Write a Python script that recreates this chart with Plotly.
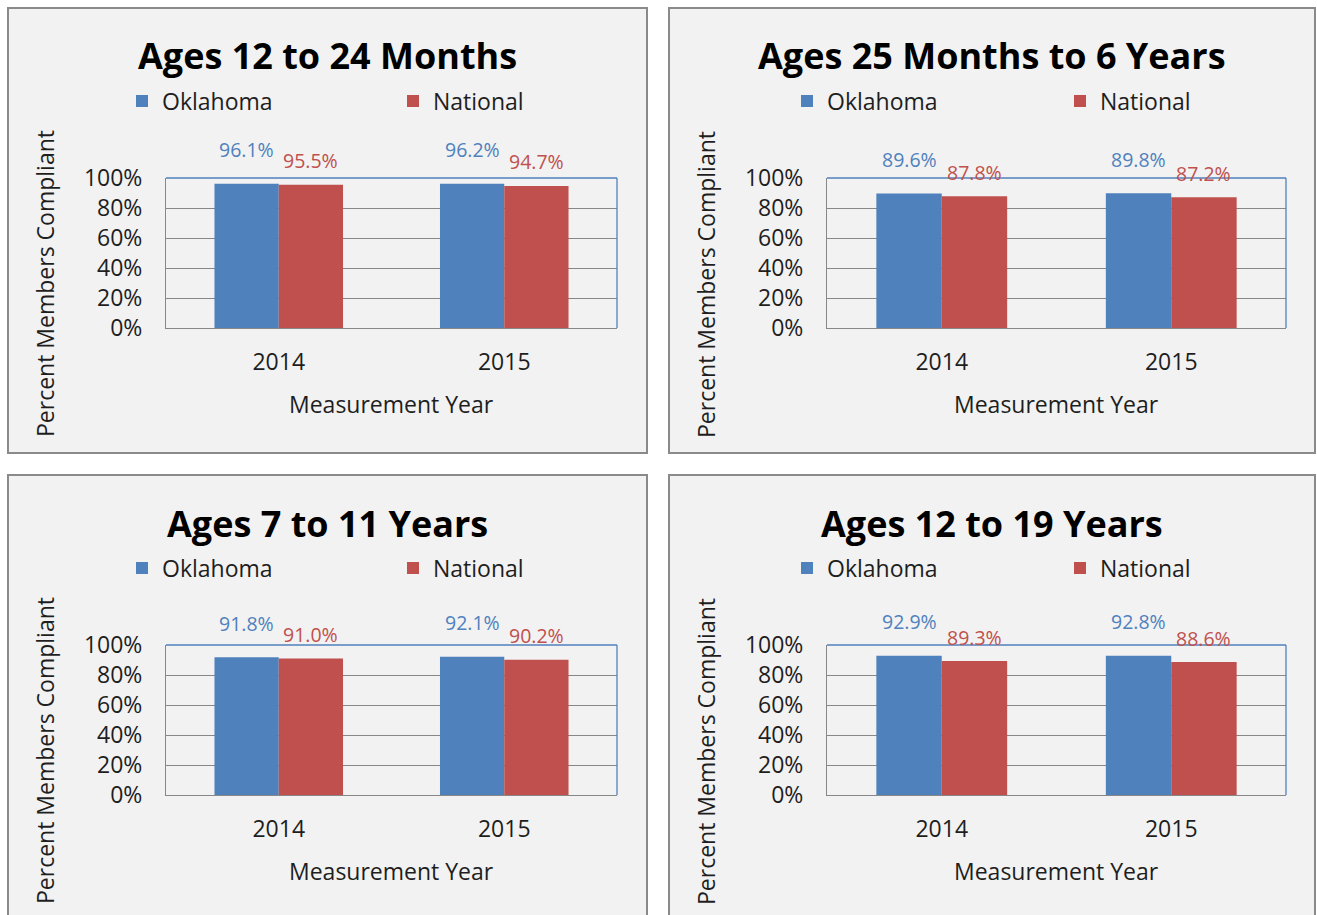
import plotly.graph_objects as go

# ---- data -------------------------------------------------------------
panel_titles = [
    "Ages 12 to 24 Months",
    "Ages 25 Months to 6 Years",
    "Ages 7 to 11 Years",
    "Ages 12 to 19 Years",
]
years = ["2014", "2015"]
series_names = ["Oklahoma", "National"]
oklahoma = [
    [0.961, 0.962],
    [0.896, 0.898],
    [0.918, 0.921],
    [0.929, 0.928],
]
national = [
    [0.955, 0.947],
    [0.878, 0.872],
    [0.910, 0.902],
    [0.893, 0.886],
]
y_ticks = [0, 0.2, 0.4, 0.6, 0.8, 1.0]
y_title = "Percent Members Compliant"
x_title = "Measurement Year"

# ---- styling / geometry ----------------------------------------------
W, H = 1317, 915
BLUE = "#4f81bd"
RED = "#c0504d"
GRID = "#878787"
TEXT = "#1e1e1e"
PANEL_BG = "#f2f2f2"
FONT = "Open Sans"
BODY = 23
BARGAP = 0.43

# panel frames and plot areas in pixels: (left, top, right, bottom)
frames = [(8, 8, 647, 453), (669, 8, 1315, 453),
          (8, 475, 647, 930), (669, 475, 1315, 930)]
plots = [(166, 178, 617, 328), (827, 178, 1286, 328),
         (166, 645, 617, 795), (827, 645, 1286, 795)]
# left edge of each legend box, and spacing between its two entries
legend_left = [122, 787, 122, 787]
legend_entry = [226, 228, 226, 228]


def fx(px):
    return px / W


def fy(py):
    return 1 - py / H


fig = go.Figure()
shapes, annotations = [], []
layout = {}

for k in range(4):
    sfx = "" if k == 0 else str(k + 1)
    xa, ya = "x" + sfx, "y" + sfx
    leg = "legend" + sfx
    fl, ft, fr, fb = frames[k]
    pl, pt, pr, pb = plots[k]

    # grey panel card
    shapes.append(dict(type="rect", xref="paper", yref="paper",
                       x0=fx(fl), x1=fx(fr), y0=fy(fb), y1=fy(ft),
                       fillcolor=PANEL_BG, line=dict(color="#8a8a8a", width=2),
                       layer="below"))

    for name, vals, color in ((series_names[0], oklahoma[k], BLUE),
                              (series_names[1], national[k], RED)):
        fig.add_trace(go.Bar(x=years, y=vals, name=name, marker_color=color,
                             marker_line_width=0, xaxis=xa, yaxis=ya,
                             legend=leg, showlegend=True, hoverinfo="skip"))

    layout["xaxis" + sfx] = dict(
        domain=[fx(pl), fx(pr)], anchor=ya, type="category",
        showline=True, linecolor=GRID, linewidth=1, ticks="",
        showgrid=False, ticklabelstandoff=13, automargin=False,
        tickfont=dict(family=FONT, size=BODY, color=TEXT), fixedrange=True)
    layout["yaxis" + sfx] = dict(
        domain=[fy(pb), fy(pt)], anchor=xa, range=[0, 1],
        tickvals=y_ticks, tickformat=".0%", showline=True, linecolor=GRID,
        linewidth=1, ticks="", showgrid=True, gridcolor=GRID, gridwidth=1,
        zeroline=False, ticklabelstandoff=18, automargin=False,
        tickfont=dict(family=FONT, size=BODY, color=TEXT), fixedrange=True)

    # blue top and right edges of the plot area
    for x0, y0, x1, y1 in ((0, 1, 1, 1), (1, 0, 1, 1)):
        shapes.append(dict(type="line", xref=xa + " domain", yref=ya + " domain",
                           x0=x0, y0=y0, x1=x1, y1=y1,
                           line=dict(color=BLUE, width=1.3), layer="above"))

    layout[leg] = dict(
        orientation="h", x=fx(legend_left[k]), xanchor="left",
        y=fy(ft + 93), yanchor="middle", entrywidth=legend_entry[k],
        bgcolor="rgba(0,0,0,0)", font=dict(family=FONT, size=BODY, color=TEXT),
        itemclick=False, itemdoubleclick=False)

    # title, axis titles
    annotations.append(dict(text="<b>%s</b>" % panel_titles[k], xref="paper",
                            yref="paper", x=fx((fl + fr) / 2), y=fy(ft + 48),
                            xanchor="center", yanchor="middle", showarrow=False,
                            font=dict(family=FONT, size=36, color="#000000")))
    annotations.append(dict(text=x_title, xref="paper", yref="paper",
                            x=fx((pl + pr) / 2), y=fy(pb + 76),
                            xanchor="center", yanchor="middle", showarrow=False,
                            font=dict(family=FONT, size=BODY, color=TEXT)))
    annotations.append(dict(text=y_title, xref="paper", yref="paper",
                            x=fx(fl + 37), y=fy(pb - 44), textangle=-90,
                            xanchor="center", yanchor="middle", showarrow=False,
                            font=dict(family=FONT, size=BODY, color=TEXT)))

    # value labels above the bars
    half = (1 - BARGAP) / 4
    for i in range(len(years)):
        for vals, color, dx, lift in ((oklahoma[k], BLUE, -half, 34),
                                      (national[k], RED, half, 24)):
            annotations.append(dict(
                text="%.1f%%" % (vals[i] * 100), xref=xa, yref=ya,
                x=i + dx, y=vals[i], yshift=lift, xanchor="center",
                yanchor="middle", showarrow=False,
                font=dict(family=FONT, size=19.5, color=color)))

fig.update_layout(
    width=W, height=H,
    margin=dict(l=0, r=0, t=0, b=0, pad=0, autoexpand=False),
    paper_bgcolor="#ffffff", plot_bgcolor=PANEL_BG,
    barmode="group", bargap=BARGAP, bargroupgap=0,
    shapes=shapes, annotations=annotations, hovermode=False,
    font=dict(family=FONT), **layout)

fig.write_html("out.html", config={"displayModeBar": False})
